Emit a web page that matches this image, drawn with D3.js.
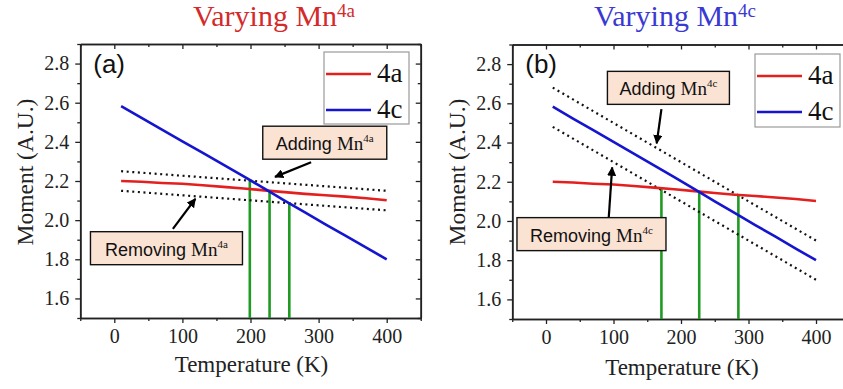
<!DOCTYPE html>
<html>
<head>
<meta charset="utf-8">
<script src="https://cdn.jsdelivr.net/npm/d3@7"></script>
<style>
  html, body { margin: 0; padding: 0; background: #fff; }
  svg { display: block; }
</style>
</head>
<body>
<svg id="chart" width="843" height="389"></svg>
<script>
// Temperature grid (K) shared by both computed curves
const temperature = [10, 40, 70, 100, 130, 160, 190, 220, 250, 280, 310, 340, 370, 400];
// Magnetic moment of the 4a and 4c sites
const moment4a = [2.200, 2.196, 2.190, 2.186, 2.178, 2.170, 2.162, 2.152, 2.143, 2.134, 2.127, 2.120, 2.112, 2.102];
const moment4c = [2.583, 2.522, 2.463, 2.403, 2.344, 2.284, 2.224, 2.162, 2.100, 2.040, 1.979, 1.920, 1.859, 1.800];

// Shifted guide lines (end points at 10 K and 400 K)
const guideT = [10, 400];
const addMn4a = [2.25, 2.15];
const removeMn4a = [2.15, 2.05];
const addMn4c = [2.68, 1.90];
const removeMn4c = [2.48, 1.70];

// Crossing temperatures and the moment where each crossing happens
const crossT_a = [199, 228, 257];
const crossM_a = [2.202, 2.149, 2.087];
const crossT_b = [171, 227, 285];
const crossM_b = [2.162, 2.149, 2.131];

const xTicks = [0, 100, 200, 300, 400];
const yTicks = [1.6, 1.8, 2.0, 2.2, 2.4, 2.6, 2.8];

const svg = d3.select("#chart");
const serif = "'Liberation Serif', 'Times New Roman', serif";
const sans = "'Liberation Sans', Arial, sans-serif";
const RED = "#e3201f";
const BLUE = "#1515d0";
const GREEN = "#1f9a23";

svg.append("defs").append("marker")
  .attr("id", "arrow")
  .attr("viewBox", "0 0 10 10")
  .attr("refX", 9).attr("refY", 5)
  .attr("markerWidth", 4.2).attr("markerHeight", 4.2)
  .attr("markerUnits", "strokeWidth")
  .attr("orient", "auto")
  .append("path").attr("d", "M0,0 L10,5 L0,10 Z").attr("fill", "#000");

function panel(cfg) {
  const x = d3.scaleLinear().domain([-50, 450]).range([cfg.left, cfg.right]);
  const y = d3.scaleLinear().domain([1.5, 2.9]).range([cfg.bottom, cfg.top]);
  const g = svg.append("g");

  // title with superscript site label
  const title = g.append("text")
    .attr("x", cfg.titleX).attr("y", 26)
    .attr("text-anchor", "middle")
    .style("font-family", serif).style("font-size", "30px")
    .attr("fill", cfg.titleColor);
  title.append("tspan").text("Varying Mn");
  title.append("tspan").style("font-size", "19px").attr("dy", -9).text(cfg.site);

  const minorX = d3.range(-50, 451, 50).filter(v => v % 100 !== 0);
  const minorY = d3.range(15, 30, 2).map(v => v / 10);

  // bottom axis
  const bottom = g.append("g").attr("transform", `translate(0,${cfg.bottom})`)
    .call(d3.axisBottom(x).tickValues(xTicks).tickSize(5).tickPadding(6).tickSizeOuter(0));
  bottom.append("g").call(d3.axisBottom(x).tickValues(minorX).tickSize(3).tickFormat("").tickSizeOuter(0));
  // left axis
  const left = g.append("g").attr("transform", `translate(${cfg.left},0)`)
    .call(d3.axisLeft(y).tickValues(yTicks).tickSize(5).tickPadding(6).tickFormat(d3.format(".1f")).tickSizeOuter(0));
  left.append("g").call(d3.axisLeft(y).tickValues(minorY).tickSize(3).tickFormat("").tickSizeOuter(0));
  // top axis (ticks inward)
  const top = g.append("g").attr("transform", `translate(0,${cfg.top})`)
    .call(d3.axisBottom(x).tickValues(xTicks).tickSize(5).tickFormat("").tickSizeOuter(0));
  top.append("g").call(d3.axisBottom(x).tickValues(minorX).tickSize(3).tickFormat("").tickSizeOuter(0));
  // right axis (ticks inward)
  const right = g.append("g").attr("transform", `translate(${x(450)},0)`)
    .call(d3.axisLeft(y).tickValues(yTicks).tickSize(5).tickFormat("").tickSizeOuter(0));
  right.append("g").call(d3.axisLeft(y).tickValues(minorY).tickSize(3).tickFormat("").tickSizeOuter(0));

  [bottom, left, top, right].forEach(a => {
    a.selectAll("path.domain").attr("stroke", "#222").attr("stroke-width", 1.6);
    a.selectAll("line").attr("stroke", "#222").attr("stroke-width", 1.3);
    a.selectAll("text").style("font-family", serif).style("font-size", "20px").attr("fill", "#222");
  });

  // axis titles
  g.append("text")
    .attr("x", (cfg.left + x(450)) / 2 + 1).attr("y", cfg.xTitleY)
    .attr("text-anchor", "middle")
    .style("font-family", serif).style("font-size", "23px").attr("fill", "#222")
    .text("Temperature (K)");
  g.append("text")
    .attr("transform", `translate(${cfg.yTitleX},${172}) rotate(-90)`)
    .attr("text-anchor", "middle")
    .style("font-family", serif).style("font-size", "23.5px").attr("fill", "#222")
    .text("Moment (A.U.)");

  // green crossing markers
  g.selectAll("line.cross").data(cfg.crossT.map((t, i) => [t, cfg.crossM[i]]))
    .enter().append("line")
    .attr("x1", d => x(d[0])).attr("x2", d => x(d[0]))
    .attr("y1", d => y(d[1])).attr("y2", y(1.5))
    .attr("stroke", GREEN).attr("stroke-width", 2.6);

  const line = d3.line().x(d => x(d[0])).y(d => y(d[1]));

  // dotted guide lines
  [cfg.guideUp, cfg.guideDown].forEach(vals => {
    g.append("path")
      .attr("d", line(guideT.map((t, i) => [t, vals[i]])))
      .attr("fill", "none").attr("stroke", "#111")
      .attr("stroke-width", 2.2).attr("stroke-dasharray", "2,3.6");
  });

  // site curves
  g.append("path").attr("d", line(temperature.map((t, i) => [t, moment4a[i]])))
    .attr("fill", "none").attr("stroke", RED).attr("stroke-width", 2.6);
  g.append("path").attr("d", line(temperature.map((t, i) => [t, moment4c[i]])))
    .attr("fill", "none").attr("stroke", BLUE).attr("stroke-width", 2.6);

  // panel letter
  g.append("text").attr("x", cfg.left + 13).attr("y", 73)
    .style("font-family", sans).style("font-size", "26px").attr("fill", "#111")
    .text(cfg.letter);

  // legend
  const L = cfg.legend;
  g.append("rect").attr("x", L.x).attr("y", L.y).attr("width", L.w).attr("height", L.h)
    .attr("fill", "#fff").attr("stroke", "#9a9a9a").attr("stroke-width", 1.2);
  [["4a", RED, L.y + 22], ["4c", BLUE, L.y + 58]].forEach(([lab, col, yy]) => {
    g.append("line").attr("x1", L.x + 2).attr("x2", L.x + L.line)
      .attr("y1", yy).attr("y2", yy).attr("stroke", col).attr("stroke-width", 2.6);
    g.append("text").attr("x", L.x + L.line + 6).attr("y", yy + 8)
      .style("font-family", serif).style("font-size", "27px").attr("fill", "#111").text(lab);
  });

  // annotation boxes with arrows
  cfg.notes.forEach(n => {
    g.append("line")
      .attr("x1", x(n.from[0])).attr("y1", y(n.from[1]))
      .attr("x2", x(n.to[0])).attr("y2", y(n.to[1]))
      .attr("stroke", "#000").attr("stroke-width", 2.2)
      .attr("marker-end", "url(#arrow)");
    const bx = x(n.box[0]), by = y(n.box[1]);
    g.append("rect").attr("x", bx).attr("y", by).attr("width", n.w).attr("height", 33)
      .attr("fill", "#fbe3d4").attr("stroke", "#111").attr("stroke-width", 1.4);
    const t = g.append("text").attr("x", bx + n.w / 2).attr("y", by + 24)
      .attr("text-anchor", "middle").attr("fill", "#111");
    t.append("tspan").style("font-family", sans).style("font-size", "18px").text(n.verb + " ");
    t.append("tspan").style("font-family", serif).style("font-size", "19px").text("Mn");
    t.append("tspan").style("font-family", serif).style("font-size", "11px").attr("dy", -8).text(cfg.site);
  });
}

panel({
  left: 80.25, right: 420.75, top: 44, bottom: 318,
  titleX: 274, titleColor: "#d42a2a", site: "4a", letter: "(a)",
  xTitleY: 372, yTitleX: 33,
  guideUp: addMn4a, guideDown: removeMn4a,
  crossT: crossT_a, crossM: crossM_a,
  legend: { x: 324, y: 52, w: 85, h: 72, line: 47 },
  notes: [
    { verb: "Adding", box: [218, 2.48], w: 124, from: [289, 2.296], to: [236, 2.221] },
    { verb: "Removing", box: [-35, 1.941], w: 152, from: [86, 1.955], to: [119, 2.109] }
  ]
});

panel({
  left: 512.25, right: 849.75, top: 44.5, bottom: 319,
  titleX: 675, titleColor: "#3a3ad2", site: "4c", letter: "(b)",
  xTitleY: 375, yTitleX: 465,
  guideUp: addMn4c, guideDown: removeMn4c,
  crossT: crossT_b, crossM: crossM_b,
  legend: { x: 755, y: 54, w: 85, h: 73, line: 47 },
  notes: [
    { verb: "Adding", box: [91, 2.763], w: 122, from: [171, 2.57], to: [164, 2.396] },
    { verb: "Removing", box: [-43, 2.017], w: 149, from: [93, 2.019], to: [98, 2.273] }
  ]
});
</script>
</body>
</html>
